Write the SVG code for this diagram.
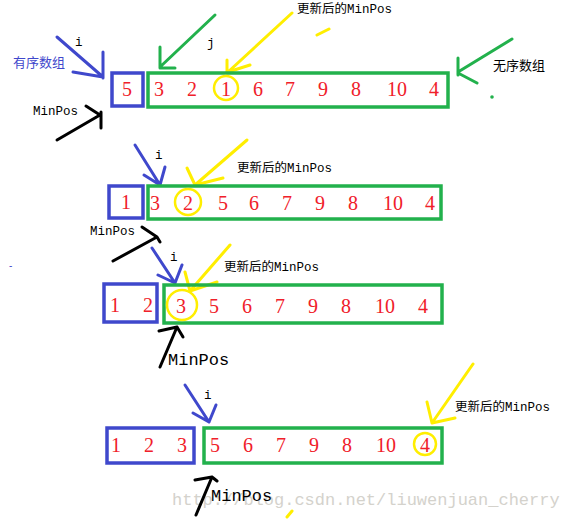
<svg xmlns="http://www.w3.org/2000/svg" width="573" height="519" viewBox="0 0 573 519">
<style>
.bb{fill:none;stroke:#3f48cc;stroke-width:3.5}
.gb{fill:none;stroke:#22b14c;stroke-width:3.5}
.yc{fill:none;stroke:#ffee00;stroke-width:2.5}
.n{font-family:"Liberation Serif",serif;font-size:20px;fill:#f0202a;text-anchor:middle}
.lab{font-family:"Liberation Mono","Noto Sans CJK SC",monospace;font-size:12.5px;fill:#000}
.big{font-family:"Liberation Mono",monospace;font-size:17px;fill:#000}
.cn{font-family:"Noto Sans CJK SC",sans-serif;font-size:13px}
.a{fill:none;stroke-width:3;stroke-linecap:round;stroke-linejoin:round}
.ab{stroke:#3f48cc}.ag{stroke:#22b14c}.ay{stroke:#ffee00}.ak{stroke:#000}
.wm{font-family:"Liberation Mono",monospace;font-size:17px;fill:#d4d2cc}
</style>
<text class="wm" x="172" y="505">http://blog.csdn.net/liuwenjuan_cherry</text>
<g id="connectors">
  <path class="a ab" d="M57,37 L103,77 M103,52 L103,78 M73,72 L103,77"/>
  <path class="a ag" d="M215,15 L160,67 M160,47 L160,68 L175,68"/>
  <path class="a ay" d="M292,13 L228,72 M227,60 L227,73 M228,72 L250,65 M317,35 L329,29"/>
  <path class="a ag" d="M512,39 L458,72 M458,58 L458,75 M458,73 L477,83"/>
  <path class="a ak" d="M57,140 L100,115 M86,106 L100,115 M101,112 L101,128"/>
  <path class="a ab" d="M135,145 L160,185 M144,175 L160,185 M165,167 L160,185"/>
  <path class="a ay" d="M247,140 L195,185 M187,168 L195,185 M223,178 L195,185"/>
  <path class="a ak" d="M113,261 L157,237 M142,227 L157,237 L160,242"/>
  <path class="a ab" d="M152,248 L175,283 M158,275 L175,283 M182,265 L175,283"/>
  <path class="a ay" d="M230,245 L190,291 M185,272 L190,291 M217,282 L190,291"/>
  <path class="a ak" d="M160,367 L177,327 M159,331 L177,327 L183,337"/>
  <path class="a ab" d="M185,385 L209,422 M193,413 L209,422 M216,405 L209,422"/>
  <path class="a ay" d="M473,364 L432,423 M427,402 L432,423 M455,418 L432,423 M287,517 L292,511"/>
  <path class="a ak" d="M196,515 L212,477 M195,480 L212,477 L217,481"/>
  <circle cx="492" cy="97" r="1.8" fill="#22b14c"/>
</g>
<g id="labels">
  <text class="cn" x="13" y="67" fill="#3f48cc">有序数组</text>
  <text class="lab" x="75" y="46">i</text>
  <text class="lab" x="207" y="47">j</text>
  <text class="lab" x="297" y="13">更新后的MinPos</text>
  <text class="cn" x="493" y="70" fill="#000">无序数组</text>
  <text class="lab" x="33" y="115">MinPos</text>
  <text class="lab" x="155" y="159">i</text>
  <text class="lab" x="237" y="172">更新后的MinPos</text>
  <text class="lab" x="90" y="235">MinPos</text>
  <text class="lab" x="170" y="261">i</text>
  <text class="lab" x="224" y="271">更新后的MinPos</text>
  <text x="9" y="269" font-family="Liberation Sans,sans-serif" font-size="10" fill="#3f48cc">-</text>
  <text class="big" x="168" y="365">MinPos</text>
  <text class="lab" x="204" y="399">i</text>
  <text class="lab" x="455" y="411">更新后的MinPos</text>
  <text class="big" x="211" y="501">MinPos</text>
</g>
<g id="row1-sorted"><rect class="bb" x="112" y="73" width="31" height="33"/><text class="n" x="127" y="96">5</text></g>
<g id="row1-unsorted"><rect class="gb" x="148" y="73" width="300" height="34"/>
  <circle class="yc" cx="226" cy="88" r="12"/>
  <text class="n" x="159" y="96">3</text><text class="n" x="192" y="96">2</text><text class="n" x="226" y="96">1</text><text class="n" x="258" y="96">6</text><text class="n" x="290" y="96">7</text><text class="n" x="323" y="96">9</text><text class="n" x="356" y="96">8</text><text class="n" x="397" y="96">10</text><text class="n" x="434" y="96">4</text></g>
<g id="row2-sorted"><rect class="bb" x="109" y="186" width="34" height="32"/><text class="n" x="126" y="209">1</text></g>
<g id="row2-unsorted"><rect class="gb" x="148" y="186" width="293" height="33"/>
  <circle class="yc" cx="188" cy="202" r="13"/>
  <text class="n" x="155" y="210">3</text><text class="n" x="188" y="210">2</text><text class="n" x="223" y="210">5</text><text class="n" x="254" y="210">6</text><text class="n" x="287" y="210">7</text><text class="n" x="320" y="210">9</text><text class="n" x="353" y="210">8</text><text class="n" x="393" y="210">10</text><text class="n" x="430" y="210">4</text></g>
<g id="row3-sorted"><rect class="bb" x="104" y="284" width="53" height="38"/><text class="n" x="115" y="312">1</text><text class="n" x="148" y="312">2</text></g>
<g id="row3-unsorted"><rect class="gb" x="164" y="285" width="278" height="38"/>
  <circle class="yc" cx="182" cy="305" r="15"/>
  <text class="n" x="181" y="313">3</text><text class="n" x="214" y="313">5</text><text class="n" x="247" y="313">6</text><text class="n" x="280" y="313">7</text><text class="n" x="313" y="313">9</text><text class="n" x="346" y="313">8</text><text class="n" x="385" y="313">10</text><text class="n" x="423" y="313">4</text></g>
<g id="row4-sorted"><rect class="bb" x="107" y="428" width="87" height="35"/><text class="n" x="116" y="452">1</text><text class="n" x="149" y="452">2</text><text class="n" x="182" y="452">3</text></g>
<g id="row4-unsorted"><rect class="gb" x="204" y="428" width="238" height="35"/>
  <circle class="yc" cx="425" cy="444" r="11"/>
  <text class="n" x="215" y="452">5</text><text class="n" x="248" y="452">6</text><text class="n" x="281" y="452">7</text><text class="n" x="314" y="452">9</text><text class="n" x="347" y="452">8</text><text class="n" x="386" y="452">10</text><text class="n" x="425" y="452">4</text></g>
</svg>
